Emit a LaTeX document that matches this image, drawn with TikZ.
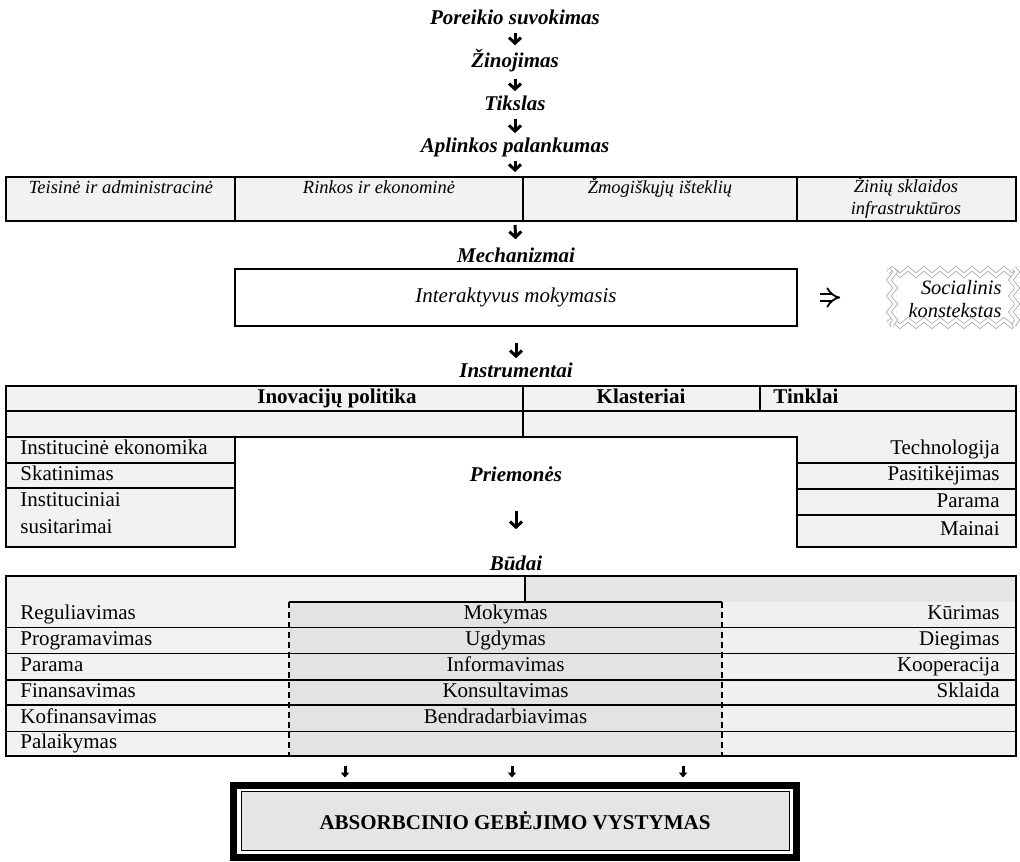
\documentclass[tikz,border=0pt]{standalone}
\usepackage{fontspec}
\setmainfont{Liberation Serif}
\usetikzlibrary{arrows.meta,positioning,decorations.pathmorphing}

\begin{document}
\begin{tikzpicture}[x=0.5pt,y=-0.5pt,
  head/.style={font=\fontsize{10.5}{12.6}\selectfont\bfseries\itshape,inner sep=1pt},
  area/.style={font=\fontsize{9.25}{11}\selectfont\itshape,align=center,inner sep=0pt,anchor=base},
  cell/.style={font=\fontsize{10.5}{13.3}\selectfont,inner sep=0pt,text height=7.2pt,text depth=2.2pt},
  bcell/.style={font=\fontsize{10.5}{12.6}\selectfont\bfseries,inner sep=0pt,text height=7.2pt,text depth=2.2pt},
  tbl/.style={line width=0.85pt},
  thin/.style={line width=0.6pt},
  dn/.style={-{Straight Barb[length=2.8pt,width=6pt]},line width=1.5pt},
  sm/.style={-{Triangle[length=2.4pt,width=4pt]},line width=1.5pt},
  hollow/.style={double,double distance=2.6pt,line width=0.9pt,-{Implies}},
  zz/.style={draw=gray!75,line width=0.35pt,double,double distance=1.5pt,
    decorate,decoration={zigzag,segment length=8pt,amplitude=1.6pt}}
]
\useasboundingbox (0,0) rectangle (1020,861);

\node[head] (need) at (515,17) {Poreikio suvokimas};
\node[head] (know) at (515,61) {Žinojimas};
\node[head] (goal) at (515,103) {Tikslas};
\node[head] (favour) at (515,147) {Aplinkos palankumas};
\draw[dn,shorten <=3pt,shorten >=1pt] (need) -- (know);
\draw[dn,shorten <=2pt,shorten >=1pt] (know) -- (goal);
\draw[dn,shorten <=3pt,shorten >=1pt] (goal) -- (favour);

% aplinka
\filldraw[fill=gray!10,tbl] (6,177) rectangle (1016,221);
\draw[thin] (235,177) -- (235,221) (523,177) -- (523,221) (797,177) -- (797,221);
\node[area] (legal) at (121,193) {Teisinė ir administracinė};
\node[area] (market) at (379,193) {Rinkos ir ekonominė};
\node[area] (human) at (660,193) {Žmogiškųjų išteklių};
\node[area] (infra) at (906,214) {Žinių sklaidos\\infrastruktūros};
\coordinate (t1top) at (515,177);
\coordinate (t1bot) at (515,221);
\draw[dn,shorten <=1pt,shorten >=2.5pt] (favour) -- (t1top);

\node[head] (mech) at (516,255) {Mechanizmai};
\draw[dn,shorten <=2pt,shorten >=3pt] (t1bot) -- (mech);
\node[draw,tbl,minimum width=281pt,minimum height=28.5pt,inner sep=0pt,
  font=\fontsize{10.5}{12.6}\selectfont\itshape] (learn) at (516,297.5) {Interaktyvus mokymasis};
\draw[zz] (888,272) -- (1018,272);
\draw[zz] (888,323) -- (1018,323);
\draw[zz] (892,268) -- (892,327);
\draw[zz] (1014,268) -- (1014,327);
\node[area,align=right,font=\fontsize{10.2}{11.2}\selectfont\itshape] (social) at (955,317) {Socialinis\\konstekstas};
\draw[hollow,shorten <=11pt,shorten >=34pt] (learn) -- (learn -| social.west);

\node[head] (instr) at (516,370) {Instrumentai};
\draw[dn,shorten <=8pt,shorten >=1pt] (learn) -- (instr);

% instrumentai
\filldraw[fill=gray!10,tbl] (6,386) -- (1016,386) -- (1016,546.7) -- (797,546.7)
  -- (797,436.7) -- (235,436.7) -- (235,546.7) -- (6,546.7) -- cycle;
\draw[tbl] (6,410.7) -- (1016,410.7) (6,436.7) -- (235,436.7)
  (523,386) -- (523,436.7) (760,386) -- (760,410.7);
\draw[tbl] (6,462.7) -- (235,462.7) (6,488.3) -- (235,488.3);
\draw[tbl] (797,462.7) -- (1016,462.7) (797,489) -- (1016,489) (797,515) -- (1016,515);
\node[bcell] (policy) at (337,398.5) {Inovacijų politika};
\node[bcell] (cluster) at (641,398.5) {Klasteriai};
\node[bcell,anchor=west] (network) at (773,398.5) {Tinklai};
\node[cell,anchor=west] (instecon) at (20,449.7) {Institucinė ekonomika};
\node[cell,anchor=west] (incent) at (20,475.5) {Skatinimas};
\node[cell,anchor=base west,align=left,text height=,text depth=] (agree) at (20,533.3) {Instituciniai\\susitarimai};
\node[cell,anchor=east] (tech) at (1000,449.7) {Technologija};
\node[cell,anchor=east] (trust) at (1000,475.8) {Pasitikėjimas};
\node[cell,anchor=east] (support) at (1000,502) {Parama};
\node[cell,anchor=east] (swap) at (1000,530.8) {Mainai};

\node[head] (means) at (516,474) {Priemonės};
\node[head] (ways) at (516,563) {Būdai};
\draw[dn,shorten <=13.5pt,shorten >=12pt] (means) -- (ways);

% budai
\fill[gray!10] (6,576) rectangle (525,601.7);
\fill[gray!20] (525,576) rectangle (1016,601.7);
\fill[gray!10] (6,601.7) rectangle (289,756);
\fill[gray!22] (289,601.7) rectangle (722,756);
\fill[gray!12] (722,601.7) rectangle (1016,756);
\draw[tbl] (525,576) -- (525,601.7) (289,601.7) -- (722,601.7);
\draw[thin] (6,627.3) -- (1016,627.3) (6,653.3) -- (1016,653.3) (6,680) -- (1016,680)
  (6,705) -- (1016,705) (6,731.7) -- (1016,731.7);
\draw[tbl,dash pattern=on 3pt off 2pt] (289,601.7) -- (289,756) (722,601.7) -- (722,756);
\draw[tbl] (6,576) rectangle (1016,756);
\node[cell,anchor=west] (reg) at (20,614.5) {Reguliavimas};
\node[cell,anchor=west] (prog) at (20,640.3) {Programavimas};
\node[cell,anchor=west] (aid) at (20,666.7) {Parama};
\node[cell,anchor=west] (fin) at (20,692.5) {Finansavimas};
\node[cell,anchor=west] (cofin) at (20,718.3) {Kofinansavimas};
\node[cell,anchor=west] (keep) at (20,743.8) {Palaikymas};
\node[cell] (teach) at (505.5,614.5) {Mokymas};
\node[cell] (educ) at (505.5,640.3) {Ugdymas};
\node[cell] (inform) at (505.5,666.7) {Informavimas};
\node[cell] (consult) at (505.5,692.5) {Konsultavimas};
\node[cell] (collab) at (505.5,718.3) {Bendradarbiavimas};
\node[cell,anchor=east] (create) at (1000,614.5) {Kūrimas};
\node[cell,anchor=east] (deploy) at (1000,640.3) {Diegimas};
\node[cell,anchor=east] (coop) at (1000,666.7) {Kooperacija};
\node[cell,anchor=east] (spread) at (1000,692.5) {Sklaida};

\coordinate (b1) at (345,756);
\coordinate (b2) at (512,756);
\coordinate (b3) at (683,756);

\draw[line width=3.5pt] (233.5,785.5) rectangle (796.5,857.5);
\node[draw,line width=0.5pt,fill=gray!20,minimum width=274pt,minimum height=29.5pt,
  inner sep=0pt,font=\fontsize{10.5}{12.6}\selectfont\bfseries] (absorb) at (515,820.5)
  {ABSORBCINIO GEBĖJIMO VYSTYMAS};
\draw[sm,shorten <=5pt,shorten >=6.5pt] (b1) -- (b1 |- absorb.north);
\draw[sm,shorten <=5pt,shorten >=6.5pt] (b2) -- (b2 |- absorb.north);
\draw[sm,shorten <=5pt,shorten >=6.5pt] (b3) -- (b3 |- absorb.north);
\end{tikzpicture}
\end{document}
